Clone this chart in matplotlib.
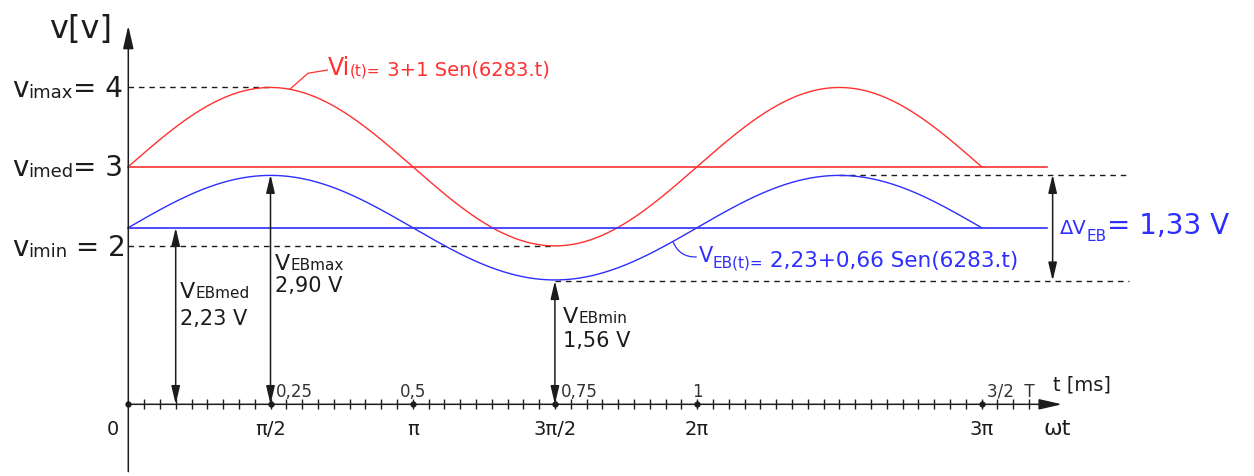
import numpy as np
import matplotlib.pyplot as plt

pi = np.pi

# valores del circuito
vi_params = [3, 1]            # continua, amplitud  -> vi(t)
veb_params = [2.23, 0.66]     # continua, amplitud  -> vEB(t)
veb_max = 2.90
veb_min = 1.56
delta_veb = 1.33
vi_levels = [4, 3, 2]
vi_names = ['max', 'med', 'min']
vi_eq = ['= 4', '= 3', ' = 2']

# eje horizontal (en multiplos de pi)
major_pos = [0, 0.5, 1, 1.5, 2, 3]
major_labels = ['0', 'π/2', 'π', '3π/2', '2π', '3π']
time_labels = ['', '0,25', '0,5', '0,75', '1', '3/2  T']
n_minor = 57          # marcas cada pi/18
curve_end = 3         # 3 pi
line_end = 3.23

RED = '#ff3030'
BLUE = '#2e2eff'
INK = '#1c1c1c'


def coma(v):
    return ('%.2f V' % v).replace('.', ',')


theta = np.linspace(0, curve_end * pi, 600)
vi = vi_params[0] + vi_params[1] * np.sin(theta)
veb = veb_params[0] + veb_params[1] * np.sin(theta)

fig = plt.figure(figsize=(12.54, 4.77), dpi=100)
ax = fig.add_axes([0, 0, 1, 1])
ax.set_xlim(-0.4511 * pi, 3.958 * pi)
ax.set_ylim(-0.905, 5.117)
ax.axis('off')
rend = fig.canvas.get_renderer()


def row(x, y, parts, color=INK):
    # texto con tamaños mezclados, uno detras de otro
    off = 0
    for s, size, dy in parts:
        t = ax.annotate(s, (x, y), xytext=(off, dy), textcoords='offset pixels',
                        fontsize=size, color=color, va='baseline', ha='left')
        off += t.get_window_extent(rend).width


def arrow(x0, y0, x1, y1, style='<|-|>', hl=0.55, hw=0.13):
    ax.annotate('', xy=(x1, y1), xytext=(x0, y0),
                arrowprops=dict(arrowstyle=f'{style},head_length={hl},head_width={hw}',
                                color=INK, lw=1.1, shrinkA=0, shrinkB=0,
                                mutation_scale=20))


# ejes
arrow(0, -0.85, 0, 4.78, style='-|>', hl=0.7, hw=0.16)
arrow(0, 0, 3.283 * pi, 0, style='-|>', hl=0.7, hw=0.16)
k = np.arange(1, n_minor + 1)
ax.vlines(k * pi / 18, -0.065, 0.065, color=INK, lw=1)
ax.plot(np.array(major_pos) * pi, np.zeros(len(major_pos)), 'o', ms=3.5, color=INK)

# lineas punteadas
dash = dict(color=INK, lw=1, dashes=(4, 3.5))
ax.plot([0, 0.5 * pi], [vi_levels[0]] * 2, **dash)
ax.plot([0, 1.5 * pi], [vi_levels[2]] * 2, **dash)
ax.plot([2.5 * pi, 3.52 * pi], [veb_max] * 2, **dash)
ax.plot([1.5 * pi, 3.52 * pi], [veb_min] * 2, **dash)

# señales
ax.plot(theta, vi, color=RED, lw=1)
ax.plot(theta, veb, color=BLUE, lw=1)
ax.plot([0, line_end * pi], [vi_params[0]] * 2, color=RED, lw=1.2)
ax.plot([0, line_end * pi], [veb_params[0]] * 2, color=BLUE, lw=1.2)

# flechas de valores
arrow(pi / 6, 0, pi / 6, veb_params[0])
arrow(pi / 2, 0, pi / 2, veb_max)
arrow(1.5 * pi, 0, 1.5 * pi, veb_min)
arrow(3.25 * pi, veb_min, 3.25 * pi, veb_max)

# etiquetas del eje vertical
ax.text(-0.28 * pi, 4.64, 'v[v]', fontsize=23, color=INK, va='baseline')
for lev, name, eq in zip(vi_levels, vi_names, vi_eq):
    row(-0.409 * pi, lev - 0.11, [('v', 20, 0), ('i' + name, 13, -1), (eq, 20, 0)])

# etiquetas del eje horizontal
for p, lab, tl in zip(major_pos, major_labels, time_labels):
    xx = p * pi if p > 0 else -0.054 * pi
    ax.text(xx, -0.375, lab, fontsize=14, color=INK, ha='center', va='baseline')
    if tl:
        if p in (0.5, 1.5, 3):
            ax.text(p * pi + 0.02 * pi, 0.105, tl, fontsize=12, color='#333333', va='baseline')
        else:
            ax.text(p * pi, 0.105, tl, fontsize=12, color='#333333', ha='center', va='baseline')
ax.text(3.217 * pi, -0.375, 'ωt', fontsize=16, color=INK, va='baseline')
ax.text(3.25 * pi, 0.19, 't [ms]', fontsize=14, color=INK, va='baseline')

# ecuacion de vi
th_r = 0.568 * pi
ax.plot([th_r, 0.632 * pi, 0.70 * pi],
        [vi_params[0] + vi_params[1] * np.sin(th_r), 4.18, 4.22], color=RED, lw=0.9)
row(0.702 * pi, 4.17, [('Vi', 17, 0), ('(t)=', 11, 0), (' 3+1 Sen(6283.t)', 14, 0)], RED)

# ecuacion de vEB
th_b = 1.915 * pi
ax.annotate('', xy=(th_b, veb_params[0] + veb_params[1] * np.sin(th_b)),
            xytext=(1.997 * pi, 1.86),
            arrowprops=dict(arrowstyle='-', color=BLUE, lw=0.9, shrinkA=0, shrinkB=0,
                            connectionstyle='arc3,rad=-0.35'))
row(2.005 * pi, 1.75, [('V', 15, 5), ('EB(t)=', 11, -1), (' 2,23+0,66 Sen(6283.t)', 15.5, 0)], BLUE)

# valores de vEB
row(0.182 * pi, 1.35, [('V', 16, 0), ('EBmed', 11, 0)])
ax.text(0.182 * pi, 1.01, coma(veb_params[0]), fontsize=15, color=INK, va='baseline')
row(0.515 * pi, 1.71, [('V', 16, 0), ('EBmax', 11, 0)])
ax.text(0.515 * pi, 1.43, coma(veb_max), fontsize=15, color=INK, va='baseline')
row(1.528 * pi, 1.04, [('V', 16, 0), ('EBmin', 11, 0)])
ax.text(1.528 * pi, 0.74, coma(veb_min), fontsize=15, color=INK, va='baseline')

row(3.276 * pi, 2.16, [('ΔV', 14, 0), ('EB', 11, -7), ('= ' + coma(delta_veb), 20, 0)], BLUE)

fig.savefig('out.png', dpi=100)
